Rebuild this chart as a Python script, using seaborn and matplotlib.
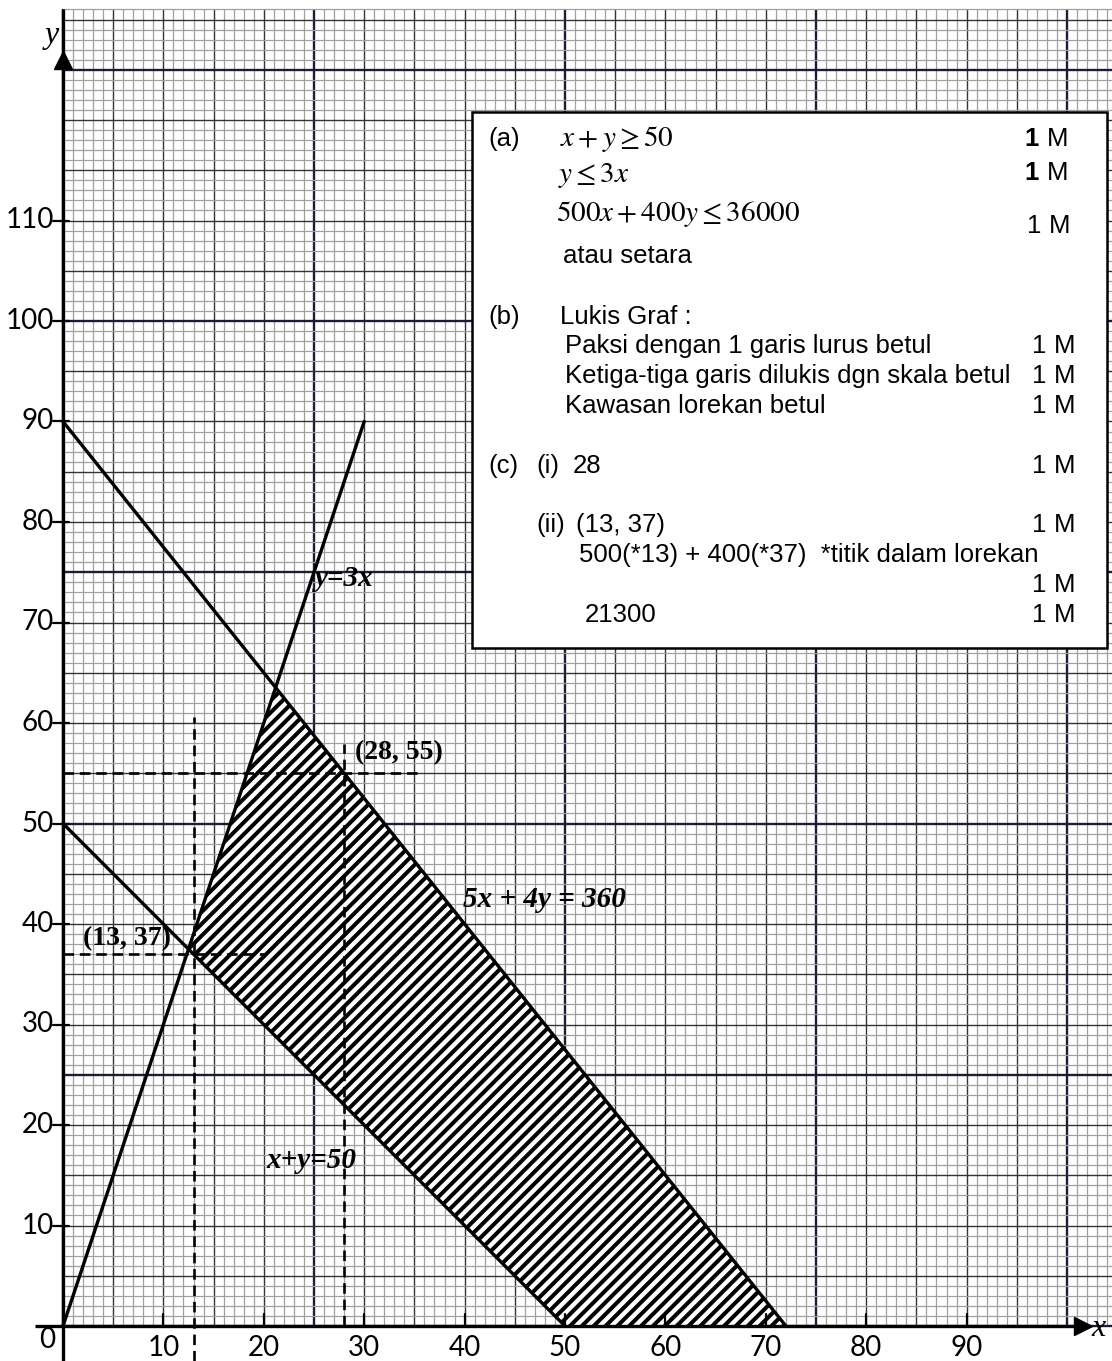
import numpy as np
import pandas as pd
import matplotlib
matplotlib.use("Agg")
import matplotlib.pyplot as plt
import seaborn as sns
from matplotlib.collections import LineCollection
from matplotlib.patches import Polygon, Rectangle

# ---------------- data ----------------
# boundary lines (endpoints)
line_y3x_x = [0, 30]
line_y3x_y = [0, 90]
line_5x4y_x = [0, 72]
line_5x4y_y = [90, 0]
line_xy50_x = [0, 50]
line_xy50_y = [50, 0]

# marked points
point_min = (13, 37)
point_max = (28, 55)

x_tick_values = [10, 20, 30, 40, 50, 60, 70, 80, 90]
y_tick_values = [10, 20, 30, 40, 50, 60, 70, 80, 90, 100, 110]

# ---------------- style ----------------
sns.set_style("white")
plt.rcParams['font.family'] = ['Liberation Sans', 'DejaVu Sans']
plt.rcParams['mathtext.fontset'] = 'stix'
plt.rcParams['text.color'] = 'black'

fig = plt.figure(figsize=(11.12, 13.61), dpi=100)
ax = fig.add_axes([0, 0, 1, 1])

# pixel -> data mapping (for layout of text only)
X0, Y0, SX, SY = 63.0, 1326.0, 10.04, 10.05
def px(xp, yp):
    return (xp - X0) / SX, (Y0 - yp) / SY

xl0, yl1 = px(0, 0)
xl1, yl0 = px(1112, 1361)
ax.set_xlim(xl0, xl1)
ax.set_ylim(yl0, yl1)
ax.axis('off')

GRID_TOP = 131.0
GRID_RIGHT = xl1

# ---------------- graph paper ----------------
def grid_style(v):
    if v % 25 == 0:
        return '#1c1c3a', 1.7
    if v % 5 == 0:
        return '#333333', 1.0
    return '#a0a0a0', 0.9

for v in range(0, 105):
    c, lw = grid_style(v)
    ax.vlines(v, 0, GRID_TOP, colors=c, linewidth=lw, zorder=1)
for h in range(0, 132):
    c, lw = grid_style(h)
    ax.hlines(h, 0, GRID_RIGHT, colors=c, linewidth=lw, zorder=1)

# ---------------- feasible region (hatched) ----------------
def intersect(p1, p2, q1, q2):
    (x1, y1), (x2, y2) = p1, p2
    (x3, y3), (x4, y4) = q1, q2
    d = (x1 - x2) * (y3 - y4) - (y1 - y2) * (x3 - x4)
    t = ((x1 - x3) * (y3 - y4) - (y1 - y3) * (x3 - x4)) / d
    return x1 + t * (x2 - x1), y1 + t * (y2 - y1)

L1 = ((line_y3x_x[0], line_y3x_y[0]), (line_y3x_x[1], line_y3x_y[1]))
L2 = ((line_5x4y_x[0], line_5x4y_y[0]), (line_5x4y_x[1], line_5x4y_y[1]))
L3 = ((line_xy50_x[0], line_xy50_y[0]), (line_xy50_x[1], line_xy50_y[1]))
A = intersect(*L1, *L3)
B = intersect(*L1, *L2)
C = (line_5x4y_x[1], line_5x4y_y[1])
D = (line_xy50_x[1], line_xy50_y[1])
region = Polygon([A, B, C, D], closed=True, facecolor='white', edgecolor='none', zorder=2)
ax.add_patch(region)

offsets = np.arange(-80, 80, 1.18)
segs = [[(-10, -10 + c), (120, 120 + c)] for c in offsets]
hatch = LineCollection(segs, colors='black', linewidths=2.9, zorder=3)
ax.add_collection(hatch)
hatch.set_clip_path(region)

# ---------------- boundary lines ----------------
df1 = pd.DataFrame({'x': line_y3x_x, 'y': line_y3x_y})
df2 = pd.DataFrame({'x': line_5x4y_x, 'y': line_5x4y_y})
df3 = pd.DataFrame({'x': line_xy50_x, 'y': line_xy50_y})
for d in (df1, df2, df3):
    sns.lineplot(data=d, x='x', y='y', ax=ax, color='black', linewidth=2.4,
                 estimator=None, sort=False, zorder=4)

# ---------------- dashed guides ----------------
dash = dict(color='black', linewidth=1.9, linestyle=(0, (4, 2.2)), zorder=5)
ax.plot([point_min[0], point_min[0]], [yl0, 60.6], **dash)
ax.plot([0, 20.2], [point_min[1], point_min[1]], **dash)
ax.plot([0, 35.4], [point_max[1], point_max[1]], **dash)
ax.plot([point_max[0], point_max[0]], [0, 57.9], **dash)

# ---------------- axes ----------------
ax.plot([0, 0], [yl0, GRID_TOP], color='black', linewidth=2.4, zorder=6, solid_capstyle='butt')
ax.plot([-2.8, 101.0], [0, 0], color='black', linewidth=2.4, zorder=6, solid_capstyle='butt')
ax.plot([0], [126.0], marker='^', markersize=13, color='black', zorder=7)
ax.plot([101.6], [0], marker='>', markersize=13, color='black', zorder=7)

tick_font = dict(family=['Lato', 'DejaVu Sans'], fontsize=20, color='black')
for xv in x_tick_values:
    ax.plot([xv, xv], [0, 1.15], color='black', linewidth=1.6, zorder=6)
    ax.text(xv, -0.9, str(xv), ha='center', va='top', **tick_font)
for yv in y_tick_values:
    ax.plot([-1.0, 0.6], [yv, yv], color='black', linewidth=1.6, zorder=6)
    ax.text(-0.9, yv, str(yv), ha='right', va='center', **tick_font)
ax.text(-1.6, -1.4, '0', ha='center', va='center', **tick_font)

ax.text(-0.4, 128.4, 'y', ha='right', va='center', family='Liberation Serif',
        style='italic', fontsize=23)
ax.text(102.4, -0.2, 'x', ha='left', va='center', family='Liberation Serif',
        style='italic', fontsize=23)

# ---------------- line / point labels ----------------
bold_serif = dict(family='Liberation Serif', fontweight='bold', fontsize=20,
                  color='black', zorder=8)
ax.text(29.1, 57.1, '(28, 55)', ha='left', va='center', **bold_serif)
ax.text(2.0, 38.5, '(13, 37)', ha='left', va='center', **bold_serif)
bold_ital = dict(bold_serif, fontsize=21, style='italic')
ax.text(25.1, 74.4, 'y=3x', ha='left', va='center', **bold_ital)
ax.text(39.8, 42.4, '5x + 4y = 360', ha='left', va='center', **bold_ital)
ax.text(20.3, 16.5, 'x+y=50', ha='left', va='center', **bold_ital)

# ---------------- answer box ----------------
bx0, by1 = px(472, 112)
bx1, by0 = px(1107, 648)
ax.add_patch(Rectangle((bx0, by0), bx1 - bx0, by1 - by0, facecolor='white',
                       edgecolor='black', linewidth=1.8, zorder=9))

sans = dict(family=['Liberation Sans', 'DejaVu Sans'], fontsize=18.5, color='black', zorder=10)
mathf = dict(fontsize=21, color='black', zorder=10)

def T(xp, yp, s, ha='left', **kw):
    x, y = px(xp, yp)
    opts = dict(sans)
    opts.update(kw)
    ax.text(x, y, s, ha=ha, va='center', **opts)

def M(xp, yp, s):
    x, y = px(xp, yp)
    ax.text(x, y, s, ha='left', va='center', **mathf)

def mark(xp_right, yp, bold_one=False):
    T(xp_right, yp, 'M', ha='right')
    T(xp_right - 29, yp, '1', ha='right', fontweight='bold' if bold_one else 'normal')

T(488, 139, '(a)')
M(560, 139, r'$x + y \geq 50$')
mark(1068, 139, True)
M(558, 175, r'$y \leq 3x$')
mark(1068, 173, True)
M(556, 214, r'$500x + 400y \leq 36000$')
mark(1070, 226)
T(563, 256, 'atau setara')

T(488, 317, '(b)')
T(560, 317, 'Lukis Graf :')
T(565, 346, 'Paksi dengan 1 garis lurus betul')
mark(1075, 346)
T(565, 376, 'Ketiga-tiga garis dilukis dgn skala betul')
mark(1075, 376)
T(565, 406, 'Kawasan lorekan betul')
mark(1075, 406)

T(488, 466, '(c)')
T(536, 466, '(i)')
T(573, 466, '28')
mark(1075, 466)
T(536, 525, '(ii)')
T(576, 525, '(13, 37)')
mark(1075, 525)
T(579, 555, '500(*13) + 400(*37)  *titik dalam lorekan')
mark(1075, 585)
T(585, 615, '21300')
mark(1075, 615)

fig.savefig('out.png', dpi=100)
